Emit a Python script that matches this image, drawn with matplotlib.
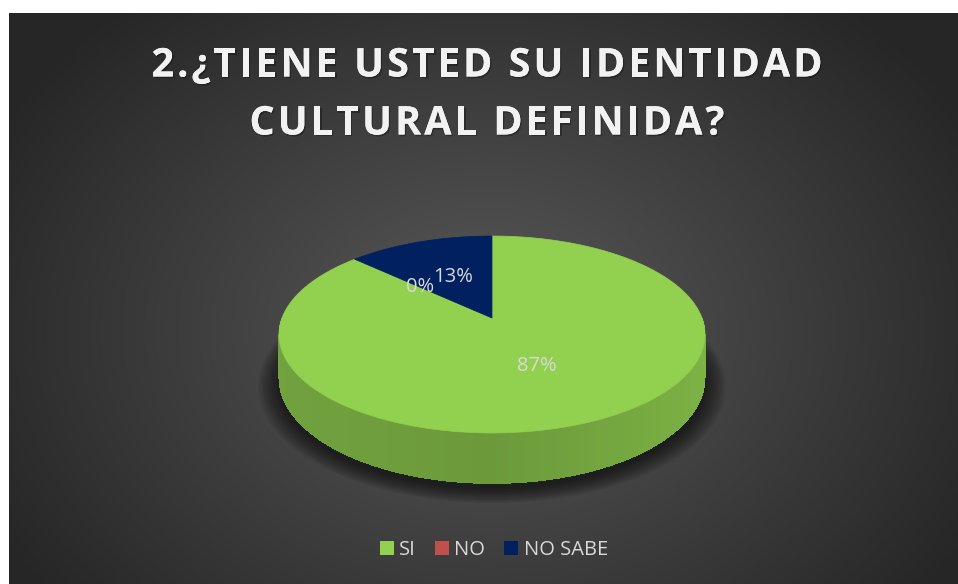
import numpy as np
import matplotlib.pyplot as plt
import matplotlib.patheffects as pe
from matplotlib.patches import Polygon, Patch
from matplotlib.colors import to_rgb
from matplotlib.font_manager import FontProperties

plt.rcParams['font.family'] = ['Open Sans', 'DejaVu Sans']

# data
labels = ['SI', 'NO', 'NO SABE']
values = [87, 0, 13]
colors = ['#92d050', '#c0504d', '#002060']
title_lines = ['2.¿TIENE USTED SU IDENTIDAD', 'CULTURAL DEFINIDA?']

W, H = 958, 584
fig = plt.figure(figsize=(9.58, 5.84), dpi=100)
ax = fig.add_axes([0, 0, 1, 1])
ax.set_xlim(0, W)
ax.set_ylim(H, 0)
ax.axis('off')

# dark radial gradient background (white margin on top/left)
yy, xx = np.mgrid[13:H, 9:W]
d = np.clip(np.sqrt(((xx - 485) / 560.0) ** 2 + ((yy - 330) / 430.0) ** 2), 0, 1)
g = (0x59 * (1 - d) + 0x26 * d) / 255.0
ax.imshow(np.dstack([g, g, g]), extent=[9, W, H, 13], zorder=0, aspect='auto')

# 3d pie, simple perspective projection of a unit circle
cx, cy, rx0, k, p, h0 = 492, 318, 210, 95.7, 0.1675, 42

def proj(X, Z, down=False):
    s = 1.0 + p * Z
    x = cx + rx0 * X / s
    y = cy - k * Z / s
    if down:
        y += h0 / s
    return x, y

def pt(t, down=False):
    r = np.radians(t)
    return proj(np.cos(r), np.sin(r), down)

# soft shadow under the pie
tt = np.linspace(0, 360, 240)
for j in range(10):
    sc = 1.0 + 0.01 * j
    pts = [proj(sc * np.cos(np.radians(t)), sc * np.sin(np.radians(t)) - 0.02, True) for t in tt]
    pts = [(x, y + 3) for x, y in pts]
    ax.add_patch(Polygon(pts, closed=True, color='black', alpha=0.07, lw=0, zorder=1))

total = float(sum(values))
angles = []
start = 90.0
for v in values:
    end = start - v / total * 360.0
    angles.append((start, end))
    start = end

def wedge_index(t):
    for i, (a0, a1) in enumerate(angles):
        if values[i] == 0:
            continue
        tt_ = t
        while tt_ > a0:
            tt_ -= 360
        while tt_ < a1:
            tt_ += 360
        if a1 <= tt_ <= a0:
            return i
    return 0

# side of the cylinder (front half): one smooth outline, then shading strips
ts = np.linspace(180, 360, 181)
outline = [pt(t) for t in ts] + [pt(t, True) for t in ts[::-1]]
ax.add_patch(Polygon(outline, closed=True, facecolor=np.array(to_rgb(colors[0])) * 0.76,
                     lw=0, zorder=2))
for t0, t1 in zip(ts[:-1], ts[1:]):
    tm = (t0 + t1) / 2
    base = np.array(to_rgb(colors[wedge_index(tm)]))
    c = np.cos(np.radians(tm))
    f = 0.82 + 0.04 * c - 0.08 * (1 - abs(c))
    col = np.clip(base * f, 0, 1)
    ax.add_patch(Polygon([pt(t0), pt(t1 + 0.3), pt(t1 + 0.3, True), pt(t0, True)],
                         closed=True, facecolor=col, lw=0, antialiased=False, zorder=2))

# top face wedges
for i, (a0, a1) in enumerate(angles):
    if values[i] == 0:
        continue
    pts = [proj(0, 0)] + [pt(t) for t in np.linspace(a0, a1, 240)]
    ax.add_patch(Polygon(pts, closed=True, facecolor=colors[i],
                         edgecolor=colors[i], lw=0.5, zorder=3))

# percentage labels
for i, (a0, a1) in enumerate(angles):
    mid = np.radians((a0 + a1) / 2)
    x, y = proj(0.5 * np.cos(mid), 0.5 * np.sin(mid))
    ax.text(x, y, '%d%%' % round(values[i] / total * 100), color='#d9d9d9',
            fontsize=14.5, ha='center', va='center', zorder=5)

# title with letter spacing
fig.canvas.draw()
renderer = fig.canvas.get_renderer()
tprop = FontProperties(family='Open Sans', weight='bold', size=28.5)

def tw(s):
    return renderer.get_text_width_height_descent(s, tprop, ismath=False)[0]

def advances(line):
    return [tw('|' + ch + '|') - tw('||') for ch in line]

adv0 = advances(title_lines[0])
spacing = (671 - sum(adv0)) / (len(title_lines[0]) - 1)
shadow = [pe.withSimplePatchShadow(offset=(1, -1.2), shadow_rgbFace='black', alpha=0.3),
          pe.Normal()]
for line, yc in zip(title_lines, [66, 124]):
    adv = advances(line)
    width = sum(adv) + spacing * (len(line) - 1)
    x = 487 - width / 2
    for ch, a in zip(line, adv):
        if ch != ' ':
            ax.text(x + a / 2, yc, ch, fontproperties=tprop, color='#f2f2f2',
                    ha='center', va='center', zorder=5, path_effects=shadow)
        x += a + spacing

# legend
handles = [Patch(facecolor=c, edgecolor='none') for c in colors]
fig.legend(handles, labels, loc='center', bbox_to_anchor=(494 / W, 1 - 550 / H),
           ncol=3, frameon=False, fontsize=14.5, labelcolor='#d9d9d9',
           handlelength=0.7, handleheight=0.7, handletextpad=0.25, columnspacing=0.95)

fig.savefig('out.png', dpi=100, facecolor='white')
